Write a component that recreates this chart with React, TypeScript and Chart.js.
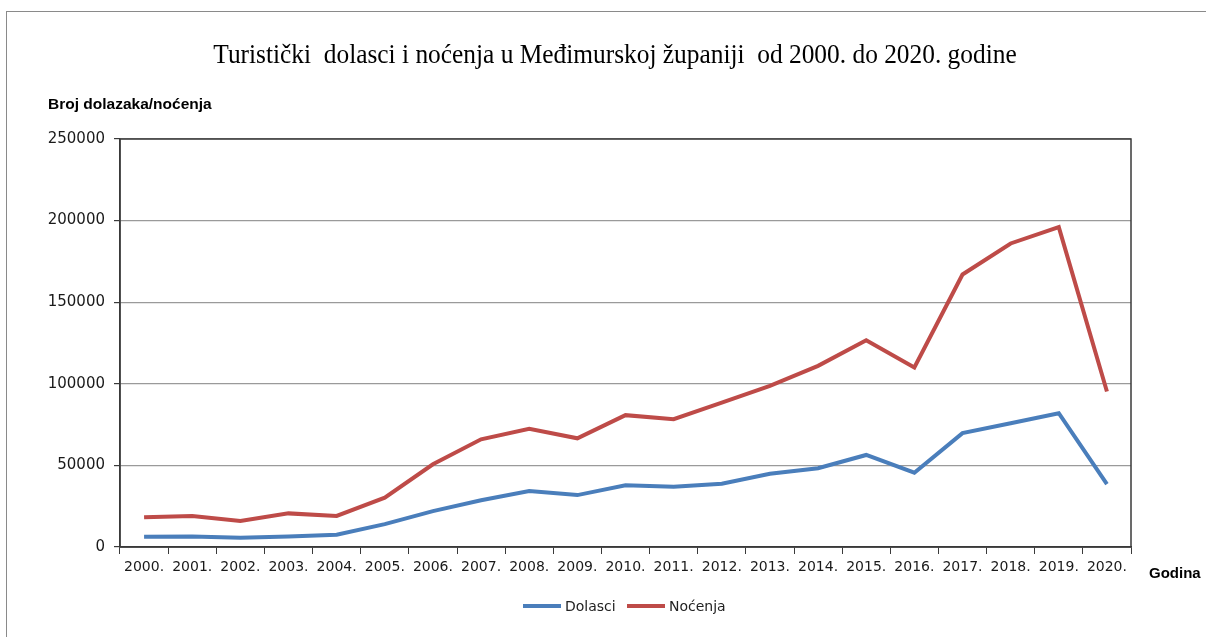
import React, { useEffect, useRef } from "react";
import { Chart, registerables } from "chart.js";

Chart.register(...registerables);

const years = ["2000.", "2001.", "2002.", "2003.", "2004.", "2005.", "2006.", "2007.", "2008.", "2009.", "2010.", "2011.", "2012.", "2013.", "2014.", "2015.", "2016.", "2017.", "2018.", "2019.", "2020."];
const dolasci = [6300, 6400, 5600, 6400, 7500, 14000, 22000, 28600, 34300, 31800, 37800, 36900, 38800, 44900, 48300, 56400, 45500, 69800, 75800, 82000, 38500];
const nocenja = [18200, 19000, 16000, 20600, 19000, 30200, 50700, 66000, 72500, 66600, 80800, 78300, 88500, 98700, 111000, 126700, 110000, 167000, 186000, 196000, 95300];
const yTicks = [0, 50000, 100000, 150000, 200000, 250000];

const title = "Turistički  dolasci i noćenja u Međimurskoj županiji  od 2000. do 2020. godine";
const yTitle = "Broj dolazaka/noćenja";
const xTitle = "Godina";
const seriesNames = ["Dolasci", "Noćenja"];
const colors = ["#4A7EBB", "#BE4B48"];

const TICK_FONT = "DejaVu Sans";

const decorPlugin = {
  id: "decor",
  afterDraw(chart: any) {
    const { ctx, chartArea } = chart;
    ctx.save();
    // frame of plot area
    ctx.strokeStyle = "#3a3a3a";
    ctx.lineWidth = 1.5;
    ctx.strokeRect(chartArea.left, chartArea.top, chartArea.right - chartArea.left, chartArea.bottom - chartArea.top);
    // title (slightly condensed serif)
    ctx.fillStyle = "#000";
    ctx.font = "27px 'Liberation Serif'";
    ctx.textAlign = "center";
    ctx.textBaseline = "middle";
    ctx.save();
    ctx.translate(615, 56);
    ctx.scale(0.94, 1);
    ctx.fillText(title, 0, 0);
    ctx.restore();
    // y title
    ctx.font = "bold 15.5px 'Liberation Sans'";
    ctx.textAlign = "left";
    ctx.fillText(yTitle, 48, 105);
    // x title
    ctx.font = "bold 15px 'Liberation Sans'";
    ctx.fillText(xTitle, 1149, 574);
    // legend
    ctx.font = `14px '${TICK_FONT}'`;
    ctx.fillStyle = "#222";
    const items = [
      { x: 523, label: seriesNames[0], color: colors[0] },
      { x: 627, label: seriesNames[1], color: colors[1] },
    ];
    const ly = 606;
    for (const it of items) {
      ctx.strokeStyle = it.color;
      ctx.lineWidth = 4;
      ctx.beginPath();
      ctx.moveTo(it.x, ly);
      ctx.lineTo(it.x + 38, ly);
      ctx.stroke();
      ctx.fillText(it.label, it.x + 42, ly + 1);
    }
    ctx.restore();
  },
};

export default function App() {
  const ref = useRef<HTMLCanvasElement | null>(null);
  useEffect(() => {
    if (!ref.current) return;
    const chart = new Chart(ref.current, {
      type: "line",
      data: {
        labels: years,
        datasets: [
          { label: seriesNames[0], data: dolasci, borderColor: colors[0], backgroundColor: colors[0], borderWidth: 4, pointRadius: 0, tension: 0 },
          { label: seriesNames[1], data: nocenja, borderColor: colors[1], backgroundColor: colors[1], borderWidth: 4, pointRadius: 0, tension: 0 },
        ],
      },
      options: {
        animation: false,
        responsive: false,
        layout: { padding: { left: 0, right: 75, top: 139, bottom: 0 } },
        plugins: { legend: { display: false }, title: { display: false }, tooltip: { enabled: false } },
        scales: {
          x: {
            offset: true,
            grid: { offset: true, drawOnChartArea: false, drawTicks: true, tickLength: 7, color: "#3a3a3a" },
            border: { display: true, color: "#3a3a3a", width: 1.5 },
            ticks: { color: "#1a1a1a", font: { family: TICK_FONT, size: 14 }, padding: 5, maxRotation: 0, autoSkip: false },
            afterFit: (s: any) => { s.height = 90; },
          },
          y: {
            min: 0,
            max: 250000,
            afterBuildTicks: (s: any) => { s.ticks = yTicks.map((v) => ({ value: v })); },
            grid: { color: "#9a9a9a", lineWidth: 1.2, drawTicks: true, tickLength: 6, tickColor: "#3a3a3a" },
            border: { display: true, color: "#3a3a3a", width: 1.5 },
            ticks: { color: "#1a1a1a", font: { family: TICK_FONT, size: 15 }, padding: 9, callback: (v: any) => String(v) },
            afterFit: (s: any) => { s.width = 120; },
          },
        },
      },
      plugins: [decorPlugin],
    });
    return () => chart.destroy();
  }, []);
  return (
    <div style={{ position: "fixed", left: 0, top: 0, width: 1206, height: 637, overflow: "hidden", background: "#fff" }}>
      <div style={{ position: "absolute", left: 6, top: 11, width: 1400, height: 800, border: "1px solid #8a8a8a" }} />
      <canvas ref={ref} width={1206} height={637} style={{ position: "absolute", left: 0, top: 0 }} />
    </div>
  );
}
